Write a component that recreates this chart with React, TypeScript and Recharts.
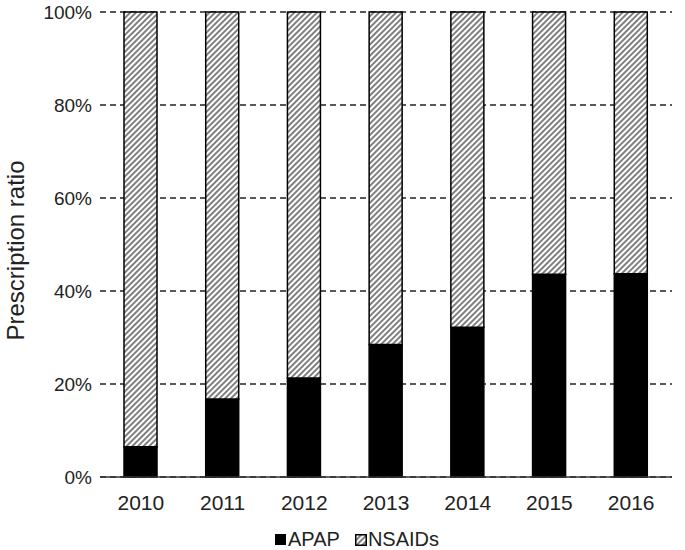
import { Bar, BarChart, CartesianGrid, Legend, XAxis, YAxis } from "recharts";

const YEARS = ["2010", "2011", "2012", "2013", "2014", "2015", "2016"];
const APAP = [6.5, 16.8, 21.3, 28.5, 32.2, 43.6, 43.7];
const NSAIDS = APAP.map((v) => 100 - v);
const Y_TICKS = [0, 20, 40, 60, 80, 100];

const data = YEARS.map((year, i) => ({
	year,
	apap: APAP[i],
	nsaids: NSAIDS[i],
}));

const FONT = '"Liberation Sans", Arial, sans-serif';

function HatchDefs({ id }: { id: string }) {
	return (
		<defs>
			<pattern
				id={id}
				width="4"
				height="4"
				patternUnits="userSpaceOnUse"
				patternTransform="rotate(45)"
			>
				<rect width="4" height="4" fill="#fff" />
				<line x1="1" y1="0" x2="1" y2="4" stroke="#808080" strokeWidth="2" />
			</pattern>
		</defs>
	);
}

function LegendContent() {
	return (
		<div
			style={{
				display: "flex",
				justifyContent: "center",
				alignItems: "center",
				fontFamily: FONT,
				fontSize: 20,
				color: "#222",
				gap: 15,
				paddingLeft: 42,
				marginTop: 4,
			}}
		>
			<span style={{ display: "flex", alignItems: "center" }}>
				<svg width="11" height="11" style={{ marginRight: 2 }}>
					<rect x="0.5" y="0.5" width="10" height="10" fill="#000" stroke="#000" />
				</svg>
				APAP
			</span>
			<span style={{ display: "flex", alignItems: "center" }}>
				<svg width="12" height="12" style={{ marginRight: 1 }}>
					<HatchDefs id="hatchLegend" />
					<rect
						x="0.75"
						y="0.75"
						width="10.5"
						height="10.5"
						fill="url(#hatchLegend)"
						stroke="#000"
						strokeWidth="1.5"
					/>
				</svg>
				NSAIDs
			</span>
		</div>
	);
}

function YLabel(props: any) {
	const vb = props.viewBox || {};
	const cy = (vb.y ?? 0) + (vb.height ?? 0) / 2 + 6;
	return (
		<text
			x={24}
			y={cy}
			transform={`rotate(-90, 24, ${cy})`}
			textAnchor="middle"
			fontSize={24}
			fontFamily={FONT}
			fill="#222"
		>
			Prescription ratio
		</text>
	);
}

export default function App() {
	return (
		<div style={{ width: 685, height: 550, background: "#fff" }}>
			<style>{"body{margin:0}"}</style>
			<BarChart
				width={685}
				height={550}
				data={data}
				margin={{ top: 12, right: 13, bottom: 0, left: 0 }}
				barCategoryGap="0%"
			>
				<HatchDefs id="hatch" />
				<CartesianGrid
					vertical={false}
					stroke="#222"
					strokeDasharray="6 4"
					strokeWidth={1.3}
				/>
				<XAxis
					dataKey="year"
					tickLine={false}
					axisLine={{ stroke: "#333", strokeWidth: 1.5 }}
					tick={{ fill: "#222", fontSize: 21, fontFamily: FONT }}
					tickMargin={12}
					height={47}
				/>
				<YAxis
					domain={[0, 100]}
					ticks={Y_TICKS}
					tickFormatter={(v) => `${v}%`}
					tickLine={false}
					axisLine={false}
					width={100}
					tick={{ fill: "#222", fontSize: 19, fontFamily: FONT }}
					tickMargin={2}
					label={<YLabel />}
				/>
				<Legend
					verticalAlign="bottom"
					height={26}
					content={() => <LegendContent />}
				/>
				<Bar
					dataKey="apap"
					name="APAP"
					stackId="a"
					fill="#000"
					stroke="#000"
					strokeWidth={1.5}
					barSize={33}
					isAnimationActive={false}
				/>
				<Bar
					dataKey="nsaids"
					name="NSAIDs"
					stackId="a"
					fill="url(#hatch)"
					stroke="#000"
					strokeWidth={1.5}
					barSize={33}
					isAnimationActive={false}
				/>
			</BarChart>
		</div>
	);
}
